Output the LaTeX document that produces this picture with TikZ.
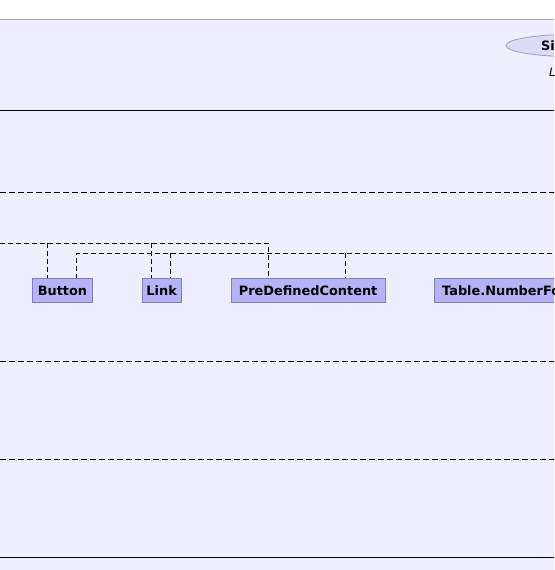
\documentclass[tikz,border=0pt]{standalone}
\usepackage{fontspec}
\setmainfont{DejaVu Sans}
\usetikzlibrary{shapes.geometric}
\definecolor{panelbg}{HTML}{EEEEFC}
\definecolor{panelline}{HTML}{A8A8B4}
\definecolor{boxfill}{HTML}{B4B4F6}
\definecolor{boxline}{HTML}{7E7EC4}
\definecolor{ellfill}{HTML}{DCDCF8}
\definecolor{ellline}{HTML}{A0A0B8}
\tikzset{
  classbox/.style={draw=boxline, fill=boxfill, line width=0.9pt, inner xsep=0pt, inner ysep=0pt,
    minimum height=23.3pt, anchor=north west, font=\fontsize{12.9}{15}\selectfont\bfseries},
  sepsolid/.style={draw=black, line width=1pt},
  sepdash/.style={draw=black, line width=0.9pt, dash pattern=on 6pt off 3pt},
  conn/.style={draw=black, line width=0.9pt, dash pattern=on 5pt off 3pt},
}
\begin{document}
\begin{tikzpicture}[x=1pt, y=-1pt]
\useasboundingbox (0,0) rectangle (554,570);
\clip (0,0) rectangle (554,570);
% panel
\fill[panelbg] (0,19.5) rectangle (560,575);
\draw[panelline, line width=1pt] (0,19.5) -- (560,19.5);
% ellipse and label
\node[ellipse, draw=ellline, fill=ellfill, line width=0.8pt, minimum width=130pt, minimum height=22pt, inner sep=0pt] (uc) at (571,45.5) {};
\node[anchor=west, inner sep=0pt, font=\fontsize{12.9}{15}\selectfont\bfseries] (uct) at (541,45.5) {Site};
\node[anchor=west, inner sep=0pt, font=\fontsize{11.5}{13}\selectfont\itshape] (ucl) at (549,72) {L};
% separators
\coordinate (s1l) at (0,110.3); \coordinate (s1r) at (560,110.3);
\coordinate (s2l) at (0,192.7); \coordinate (s2r) at (560,192.7);
\coordinate (s3l) at (0,361.3); \coordinate (s3r) at (560,361.3);
\coordinate (s4l) at (0,459.2); \coordinate (s4r) at (560,459.2);
\coordinate (s5l) at (0,557.3); \coordinate (s5r) at (560,557.3);
\draw[sepsolid] (s1l) -- (s1r);
\draw[sepdash] (s2l) -- (s2r);
\draw[sepdash] (s3l) -- (s3r);
\draw[sepdash] (s4l) -- (s4r);
\draw[sepsolid] (s5l) -- (s5r);
% class boxes
\node[classbox, minimum width=59.4pt] (button) at (32.3,278.3) {Button};
\node[classbox, minimum width=39pt] (link) at (141.7,278.3) {Link};
\node[classbox, minimum width=154pt] (pdc) at (230.7,278.3) {PreDefinedContent};
\node[classbox, text width=170pt, align=left] (tnf) at (434.3,278.3) {\hspace*{7.4pt}Table.NumberFormat};
% connectors
\coordinate (upL) at (0,243.3);
\coordinate (lowR) at (560,253.3);
\draw[conn] (upL) -- (268.7,243.3) -- (268.7,243.3 |- pdc.north);
\draw[conn] (47.7,243.3) -- (47.7,243.3 |- button.north);
\draw[conn] (151,243.3) -- (151,243.3 |- link.north);
\draw[conn] (lowR) -- (76.7,253.3) -- (76.7,253.3 |- button.north);
\draw[conn] (170.7,253.3) -- (170.7,253.3 |- link.north);
\draw[conn] (345.7,253.3) -- (345.7,253.3 |- pdc.north);
\end{tikzpicture}
\end{document}
